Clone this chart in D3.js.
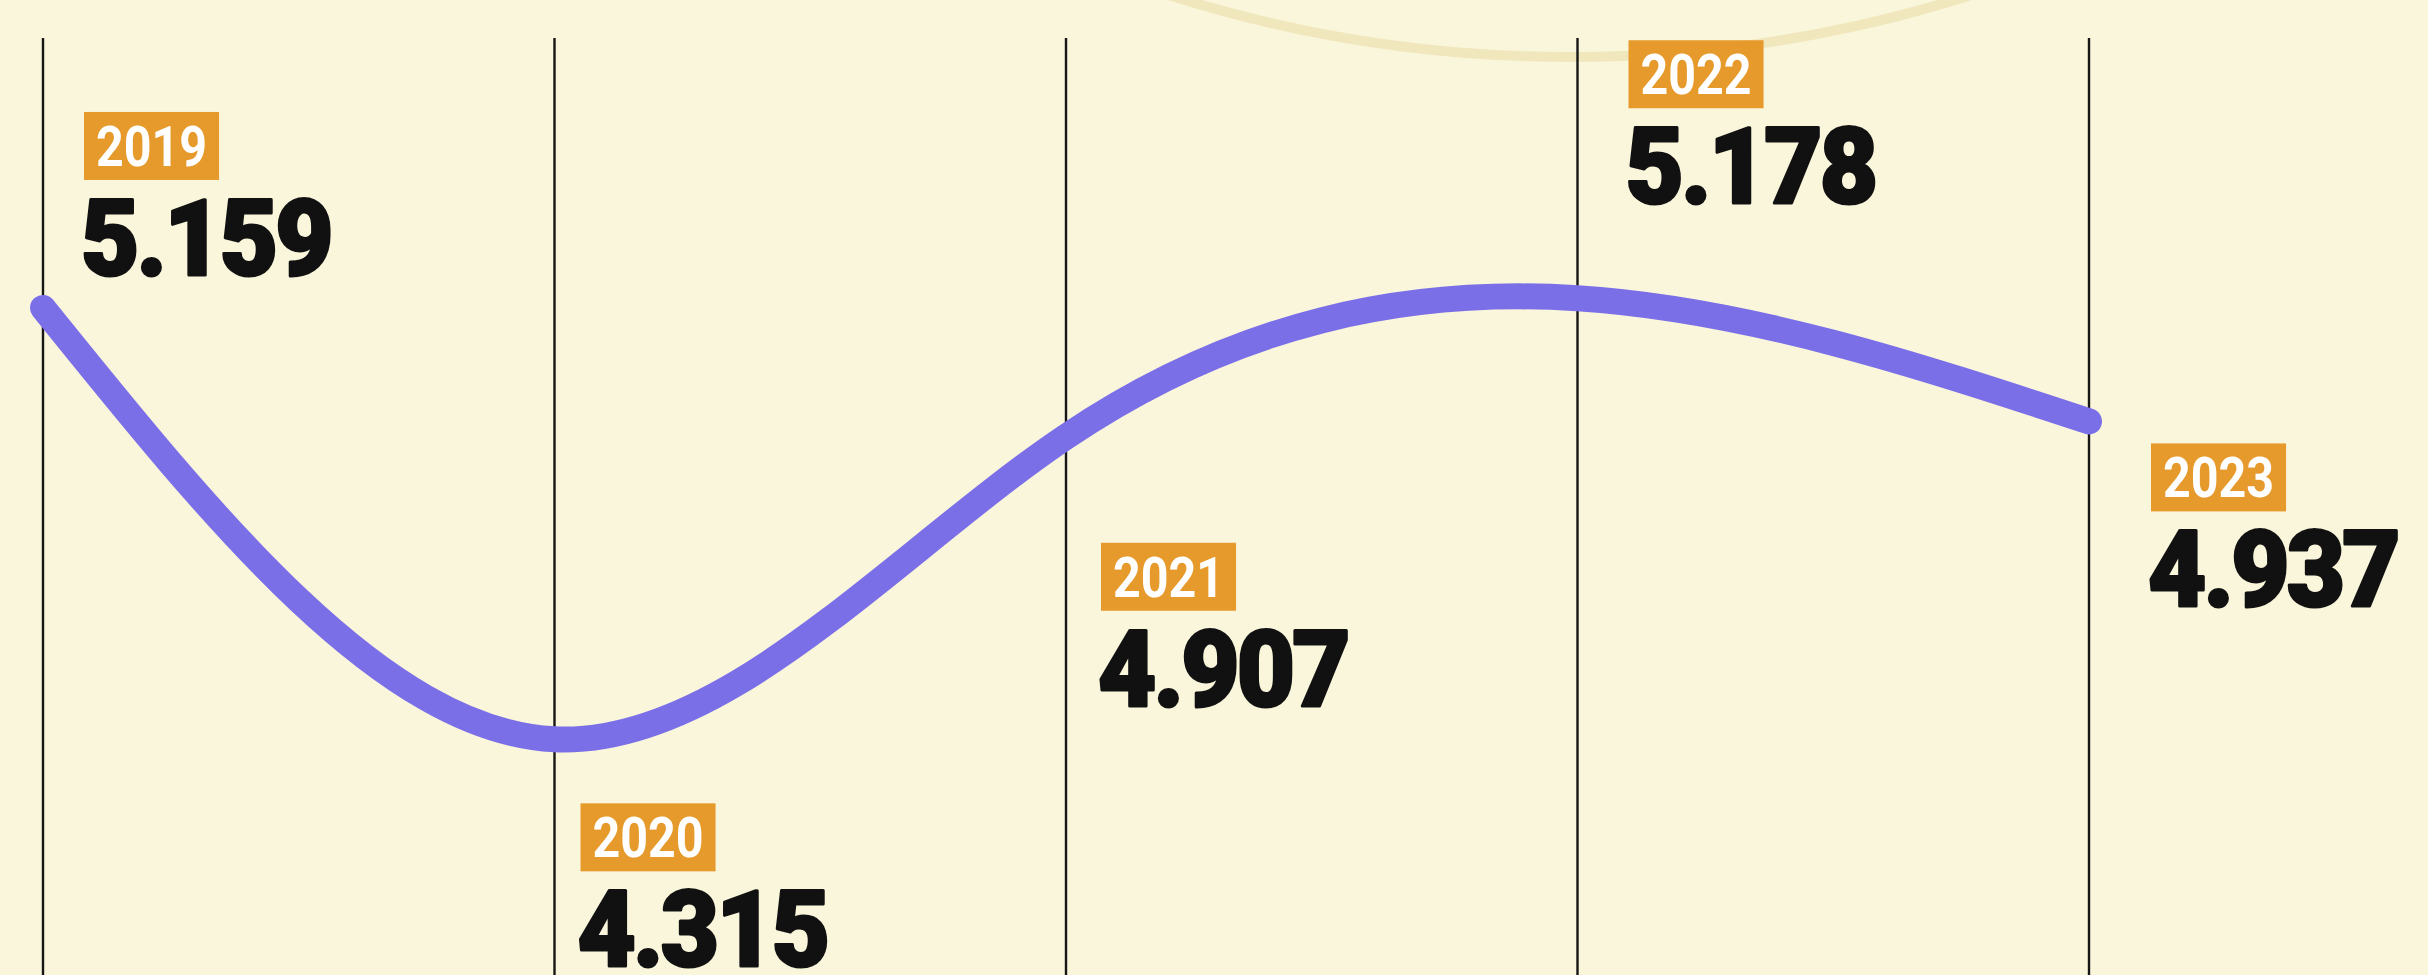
<!DOCTYPE html>
<html>
<head>
<meta charset="utf-8">
<script src="https://cdn.jsdelivr.net/npm/d3@7"></script>
<style>
  html, body { margin: 0; padding: 0; background: #faf6dc; }
  svg { display: block; }
</style>
</head>
<body>
<div id="chart"></div>
<script>
const years = ["2019", "2020", "2021", "2022", "2023"];
const values = [5.159, 4.315, 4.907, 5.178, 4.937];
// label placement relative to each point: [dx, dy] of the year badge's top-left corner
const labelOffsets = [[41, -196], [26, 64], [35, 106], [51, -258], [62, 22]];

const width = 2428;
const height = 975;
const lineColor = "#7b6fe8";
const badgeColor = "#e79a2c";
const badgeSquash = 0.88;
const valueSquash = 0.95;

const svg = d3.select("#chart").append("svg")
  .attr("width", width)
  .attr("height", height)
  .attr("viewBox", `0 0 ${width} ${height}`);

svg.append("rect")
  .attr("width", width)
  .attr("height", height)
  .attr("fill", "#faf6dc");

// faint decorative ring peeking in from the top
svg.append("circle")
  .attr("cx", 1570)
  .attr("cy", -1271)
  .attr("r", 1328)
  .attr("fill", "none")
  .attr("stroke", "#f1e7bd")
  .attr("stroke-width", 10);

const x = d3.scalePoint().domain(years).range([43, 2089]);
const y = d3.scaleLinear().domain([4.3, 5.2]).range([747, 287]);
const fmt = d3.format(".3f");

const points = years.map((year, i) => ({ year, value: values[i], offset: labelOffsets[i] }));

svg.append("g")
  .selectAll("line")
  .data(years)
  .join("line")
  .attr("x1", (d) => x(d))
  .attr("x2", (d) => x(d))
  .attr("y1", 38)
  .attr("y2", height)
  .attr("stroke", "#161616")
  .attr("stroke-width", 2.4);

const line = d3.line()
  .x((d) => x(d.year))
  .y((d) => y(d.value))
  .curve(d3.curveNatural);

svg.append("path")
  .datum(points)
  .attr("fill", "none")
  .attr("stroke", lineColor)
  .attr("stroke-width", 26)
  .attr("stroke-linecap", "round")
  .attr("stroke-linejoin", "round")
  .attr("d", line);

const labels = svg.append("g")
  .selectAll("g")
  .data(points)
  .join("g")
  .attr("transform", (d) => `translate(${x(d.year) + d.offset[0]},${y(d.value) + d.offset[1]})`);

const badgeText = labels.append("text")
  .attr("transform", `translate(12,54) scale(${badgeSquash},1)`)
  .attr("fill", "#ffffff")
  .attr("font-family", "Roboto, 'Liberation Sans', sans-serif")
  .attr("font-weight", 700)
  .attr("font-size", 55)
  .text((d) => d.year);

labels.insert("rect", "text")
  .attr("x", 0)
  .attr("y", 0)
  .attr("height", 68)
  .attr("width", function (d, i) {
    return badgeText.nodes()[i].getComputedTextLength() * badgeSquash + 24;
  })
  .attr("fill", badgeColor);

labels.append("text")
  .attr("transform", `translate(-3,163) scale(${valueSquash},1)`)
  .attr("fill", "#111111")
  .attr("stroke", "#111111")
  .attr("stroke-width", 3)
  .attr("stroke-linejoin", "round")
  .attr("font-family", "Roboto, 'DejaVu Sans', sans-serif")
  .attr("font-weight", 900)
  .attr("font-size", 106)
  .attr("letter-spacing", -3)
  .text((d) => fmt(d.value));
</script>
</body>
</html>
